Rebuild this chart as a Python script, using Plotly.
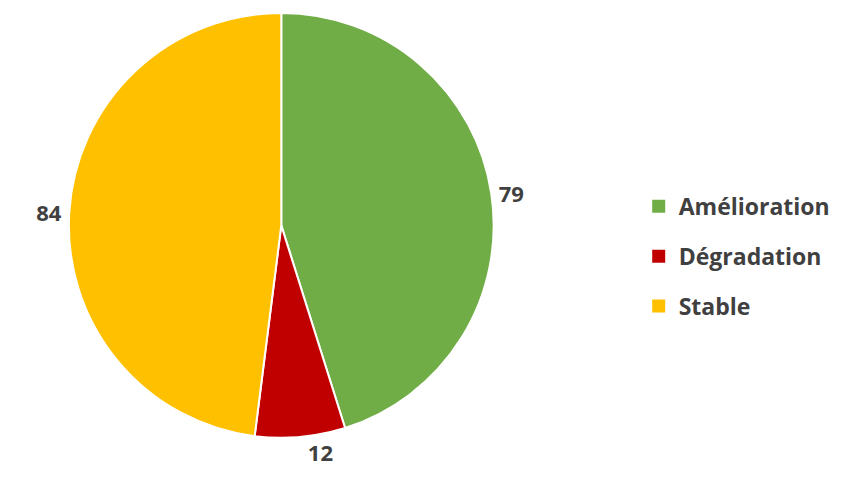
import plotly.graph_objects as go

categories = ['Amélioration', 'Dégradation', 'Stable']
counts = [79, 12, 84]
colors = ['#70AD47', '#C00000', '#FFC000']

fig = go.Figure()

fig.add_trace(go.Pie(
    labels=categories,
    values=counts,
    sort=False,
    direction='clockwise',
    rotation=0,
    marker=dict(colors=colors, line=dict(color='white', width=2)),
    textinfo='value',
    textposition='outside',
    textfont=dict(family='Open Sans', size=22, color='#404040', weight='bold'),
    domain=dict(x=[0.069, 0.574], y=[0.115, 1.0]),
    showlegend=False,
))

# legend entries (square markers, spaced like the original)
for cat, col in zip(categories, colors):
    fig.add_trace(go.Scatter(
        x=[None], y=[None], mode='markers', name=cat, legendgroup=cat,
        marker=dict(symbol='square', size=13, color=col),
    ))

fig.update_layout(
    width=850, height=485,
    margin=dict(l=0, r=0, t=0, b=0),
    paper_bgcolor='white',
    plot_bgcolor='white',
    xaxis=dict(visible=False),
    yaxis=dict(visible=False),
    font=dict(family='Open Sans', color='#404040'),
    legend=dict(x=0.742, xanchor='left', y=0.493, yanchor='middle',
                tracegroupgap=17, itemwidth=30,
                font=dict(family='Open Sans', size=23, color='#404040', weight='bold')),
    showlegend=True,
)

fig.write_html("out.html")
